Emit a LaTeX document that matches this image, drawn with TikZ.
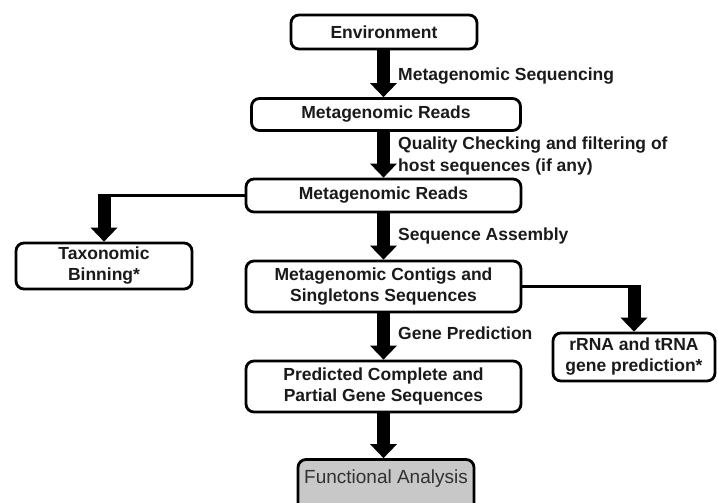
\documentclass[tikz,border=0pt]{standalone}
\usepackage{fontspec}
\setmainfont{Liberation Sans}
\usetikzlibrary{arrows.meta}
\definecolor{ink}{HTML}{1A1A1A}
\definecolor{boxgray}{HTML}{C8C8C8}
\begin{document}
\begin{tikzpicture}[x=1pt,y=-1pt,
  box/.style={draw=black, line width=2.8pt, rounded corners=8pt, fill=white,
    inner sep=0pt, align=center, text=ink,
    font=\fontsize{17.5}{21}\selectfont\bfseries},
  note/.style={anchor=west, align=left, inner sep=0pt, text=ink,
    font=\fontsize{17.5}{21.5}\selectfont\bfseries},
  fat/.style={line width=13pt,
    -{Triangle[width=27pt,length=14pt,line width=0pt]}},
  link/.style={line width=2.8pt}]

\useasboundingbox (0,0) rectangle (718,503);
\clip (0,0) rectangle (718,503);

% vertical spine of the main pipeline
\coordinate (spine) at (383.5,0);

% boxes of the main pipeline
\node[box, minimum width=186pt, minimum height=34pt] (env) at (384,32) {Environment};
\node[box, minimum width=269pt, minimum height=32pt] (mr1) at (386,114.5) {Metagenomic Reads};
\node[box, minimum width=275pt, minimum height=33pt] (mr2) at (383.5,195.5) {Metagenomic Reads};
\node[box, minimum width=275pt, minimum height=51pt] (ctg) at (383.5,286.5)
  {Metagenomic Contigs and\\Singletons Sequences};
\node[box, minimum width=275pt, minimum height=51pt] (pred) at (383.5,386.5)
  {Predicted Complete and\\Partial Gene Sequences};
\node[box, fill=boxgray, anchor=base, minimum width=176pt,
  text height=24pt, text depth=32pt,
  font=\fontsize{19}{22}\selectfont, text=ink!90] (func) at (386,483.5) {Functional Analysis};

% side branches
\node[box, minimum width=176pt, minimum height=46pt] (tax) at (104,266)
  {Taxonomic\\Binning*};
\node[box, minimum width=162pt, minimum height=48pt] (rrna) at (634,357)
  {rRNA and tRNA\\gene prediction*};

% step labels
\node[note] (l1) at (398,76.5) {Metagenomic Sequencing};
\node[note] (l2) at (398,156) {Quality Checking and filtering of\\host sequences (if any)};
\node[note] (l3) at (398,235.5) {Sequence Assembly};
\node[note] (l4) at (398,333.5) {Gene Prediction};

% main arrows
\draw[fat] (env.south -| spine) -- (mr1.north -| spine);
\draw[fat] (mr1.south -| spine) -- (mr2.north -| spine);
\draw[fat] (mr2.south -| spine) -- (ctg.north -| spine);
\draw[fat] (ctg.south -| spine) -- (pred.north -| spine);
\draw[fat] (pred.south -| spine) -- (func.north -| spine);

% branch to taxonomic binning
\coordinate (tcorner) at (tax.north |- mr2.west);
\draw[link] (mr2.west) -- ([xshift=-1.4pt]tcorner);
\draw[fat] ([yshift=1.4pt]tcorner) -- (tax.north);

% branch to rRNA / tRNA prediction
\coordinate (rcorner) at (rrna.north |- ctg.east);
\draw[link] (ctg.east) -- ([xshift=1.4pt]rcorner);
\draw[fat] ([yshift=1.4pt]rcorner) -- (rrna.north);
\end{tikzpicture}
\end{document}
